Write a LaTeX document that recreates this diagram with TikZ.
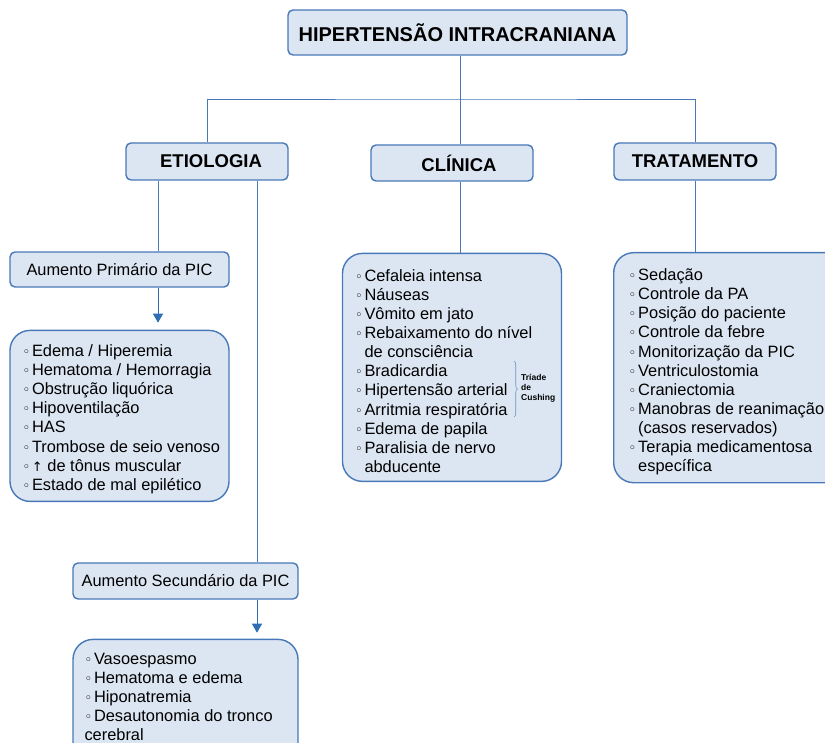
\documentclass[tikz,border=0pt]{standalone}
\usepackage{fontspec}
\setmainfont{Liberation Sans}
\newfontfamily\simbolo{DejaVu Sans}
\usetikzlibrary{positioning,arrows.meta,decorations.pathreplacing}

\definecolor{fundo}{HTML}{DCE6F2}
\definecolor{borda}{HTML}{4778B8}
\definecolor{azulseta}{HTML}{2F6DB5}

\newcommand\bola{\makebox[9.5pt][l]{\simbolo\fontsize{13}{13}\selectfont ◦}}
\newcommand\vazio{\hspace*{9.5pt}}

\tikzset{
    cabec/.style={draw=borda, fill=fundo, line width=1.4pt,
        rounded corners=5pt, inner sep=0pt,
        font=\fontsize{18.5}{20}\selectfont\bfseries},
    caixa/.style={draw=borda, fill=fundo, line width=1.4pt,
        rounded corners=5pt, inner sep=0pt,
        font=\fontsize{16.4}{19.1}\selectfont},
    lista/.style={draw=borda, fill=fundo, line width=1.4pt,
        rounded corners=20pt, inner sep=0pt},
    texto/.style={inner sep=0pt, font=\fontsize{16.4}{19.1}\selectfont},
    conector/.style={draw=borda, line width=0.9pt},
    seta/.style={draw=azulseta, line width=0.9pt,
        -{Triangle[length=9pt,width=10pt]}}
}

\begin{document}
\begin{tikzpicture}[x=1pt, y=-1pt]
        \clip (0,0) rectangle (825,743);

        \node[cabec, font=\fontsize{20}{22}\selectfont\bfseries,
            minimum width=339pt, minimum height=45pt]
            (titulo) at (457.5,32.5) {HIPERTENSÃO INTRACRANIANA};
        \node[cabec, minimum width=162pt, minimum height=37pt]
            (etiologia) at (207,161.5) {\hspace*{8pt}ETIOLOGIA};
        \node[cabec, minimum width=162pt, minimum height=36pt]
            (clinica) at (452,163) {\hspace*{14pt}CLÍNICA};
        \node[cabec, minimum width=162pt, minimum height=37pt]
            (tratamento) at (695,161.5) {TRATAMENTO};

        \node[caixa, minimum width=219pt, minimum height=35pt]
            (prim) at (119.5,269.5) {Aumento Primário da PIC};
        \node[lista, below=42pt of prim,
            minimum width=219pt, minimum height=171pt] (primlista) {};
        \node[caixa, minimum width=225pt, minimum height=36pt]
            (sec) at (185.5,581) {Aumento Secundário da PIC};
        \node[lista, below=39pt of sec,
            minimum width=225pt, minimum height=130pt] (seclista) {};
        \node[lista, below=71pt of clinica,
            minimum width=219pt, minimum height=228pt] (clilista) {};
        \node[lista, anchor=north west,
            minimum width=232pt, minimum height=230pt]
            (tratlista) at (613,252) {};

        \node[texto, below right=13.3pt and 13pt of primlista.north west]
            (primtexto) {\begin{tabular}{@{}l@{}}
            \bola Edema / Hiperemia\\
            \bola Hematoma / Hemorragia\\
            \bola Obstrução liquórica\\
            \bola Hipoventilação\\
            \bola HAS\\
            \bola Trombose de seio venoso\\
            \bola {\simbolo\fontsize{13}{13}\selectfont ↑} de tônus muscular\\
            \bola Estado de mal epilético
            \end{tabular}};
        \node[texto, below right=12pt and 12pt of seclista.north west]
            (sectexto) {\begin{tabular}{@{}l@{}}
            \bola Vasoespasmo\\
            \bola Hematoma e edema\\
            \bola Hiponatremia\\
            \bola Desautonomia do tronco\\
            cerebral
            \end{tabular}};
        \node[texto, below right=15.1pt and 13pt of clilista.north west]
            (clitexto) {\begin{tabular}{@{}l@{}}
            \bola Cefaleia intensa\\
            \bola Náuseas\\
            \bola Vômito em jato\\
            \bola Rebaixamento do nível\\
            \vazio de consciência\\
            \bola Bradicardia\\
            \bola Hipertensão arterial\\
            \bola Arritmia respiratória\\
            \bola Edema de papila\\
            \bola Paralisia de nervo\\
            \vazio abducente
            \end{tabular}};
        \node[texto, below right=15.1pt and 15.5pt of tratlista.north west]
            (trattexto) {\begin{tabular}{@{}l@{}}
            \bola Sedação\\
            \bola Controle da PA\\
            \bola Posição do paciente\\
            \bola Controle da febre\\
            \bola Monitorização da PIC\\
            \bola Ventriculostomia\\
            \bola Craniectomia\\
            \bola Manobras de reanimação\\
            \vazio (casos reservados)\\
            \bola Terapia medicamentosa\\
            \vazio específica
            \end{tabular}};

        \coordinate (bar) at (460.5,99);
        \coordinate (pe) at (158,0);
        \coordinate (se) at (257,0);
        \coordinate (chave1) at (514,361);
        \coordinate (chave2) at (514,417);

        \node[anchor=west, align=left, inner sep=0pt,
            font=\fontsize{8.5}{10}\selectfont\bfseries]
            (triade) at (521,388) {Tríade\\de\\Cushing};

        \draw[conector] (titulo.south -| bar) -- (bar);
        \draw[conector] (etiologia.north) |- (bar) -| (tratamento.north);
        \draw[conector] (bar) -- (bar |- clinica.north);
        \draw[conector] (clinica.south -| bar) -- (clilista.north -| bar);
        \draw[conector] (tratamento.south) -- (tratlista.north -| tratamento.south);
        \draw[conector] (etiologia.south -| pe) -- (prim.north -| pe);
        \draw[conector] (etiologia.south -| se) -- (sec.north -| se);
        \draw[seta, shorten >=7pt] (prim.south -| pe) -- (primlista.north -| pe);
        \draw[seta, shorten >=6pt] (sec.south -| se) -- (seclista.north -| se);
        \draw[borda!80, line width=0.6pt,
            decorate, decoration={brace, amplitude=3.5pt}]
            (chave1) -- (chave2);
    \end{tikzpicture}
\end{document}
